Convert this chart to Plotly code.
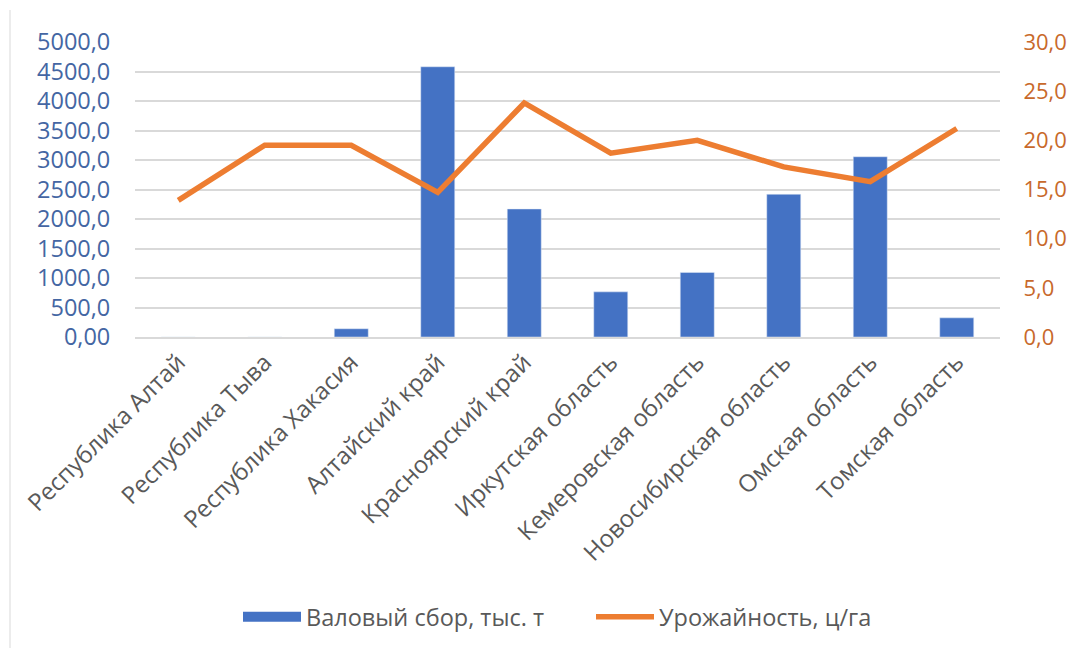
import plotly.graph_objects as go

categories = ["Республика Алтай", "Республика Тыва", "Республика Хакасия",
              "Алтайский край", "Красноярский край", "Иркутская область",
              "Кемеровская область", "Новосибирская область", "Омская область",
              "Томская область"]
gross_harvest = [0, 0, 140, 4580, 2170, 765, 1095, 2420, 3055, 325]
yield_cq = [13.9, 19.5, 19.5, 14.7, 23.8, 18.7, 20.0, 17.3, 15.8, 21.2]

left_ticks = [0, 500, 1000, 1500, 2000, 2500, 3000, 3500, 4000, 4500, 5000]
left_labels = ["0,00", "500,0", "1000,0", "1500,0", "2000,0", "2500,0",
               "3000,0", "3500,0", "4000,0", "4500,0", "5000,0"]
right_ticks = [0, 5, 10, 15, 20, 25, 30]
right_labels = ["0,0", "5,0", "10,0", "15,0", "20,0", "25,0", "30,0"]

FONT = "Open Sans"
BAR_COLOR = "#4472C4"
LINE_COLOR = "#ED7D31"

# page body has an 8px margin, so the figure is sized/offset to compensate
W, H = 1069, 641
L, R, T = 127, 77, 34
PLOT_BOTTOM = 329.5
B = H - PLOT_BOTTOM
PH = PLOT_BOTTOM - T
PW = W - L - R

fig = go.Figure()
fig.add_trace(go.Bar(x=categories, y=gross_harvest, name="Валовый сбор, тыс. т",
                     marker_color=BAR_COLOR, yaxis="y", showlegend=False))
# legend proxy so the bar key is drawn as a wide block like the reference
fig.add_trace(go.Scatter(x=[None], y=[None], name="Валовый сбор, тыс. т",
                         mode="lines", line=dict(color=BAR_COLOR, width=13),
                         yaxis="y", hoverinfo="skip"))
fig.add_trace(go.Scatter(x=categories, y=yield_cq, name="Урожайность, ц/га",
                         mode="lines", line=dict(color=LINE_COLOR, width=5.5),
                         yaxis="y2"))

fig.update_layout(
    width=W, height=H,
    margin=dict(l=L, r=R, t=T, b=B, autoexpand=False),
    paper_bgcolor="white", plot_bgcolor="white",
    bargap=0.607,
    font=dict(family=FONT),
    xaxis=dict(tickangle=-45, tickfont=dict(size=24, color="#595959"),
               showgrid=False, showline=True, linecolor="#d9d9d9", linewidth=1.5,
               ticks="", automargin=False),
    yaxis=dict(range=[0, 5000], tickvals=left_ticks, ticktext=left_labels,
               tickfont=dict(size=23.5, color="#4466a3"),
               showgrid=True, gridcolor="#d9d9d9", gridwidth=1.5,
               zeroline=False, showline=False, ticks="outside", ticklen=19,
               tickcolor="rgba(0,0,0,0)", automargin=False),
    yaxis2=dict(range=[0, 30], tickvals=right_ticks, ticktext=right_labels,
                overlaying="y", side="right",
                tickfont=dict(size=22, color="#c8692b"),
                showgrid=False, zeroline=False, showline=False,
                ticks="outside", ticklen=18, tickcolor="rgba(0,0,0,0)",
                automargin=False),
    legend=dict(orientation="h", x=(230 - L) / PW, xanchor="left",
                y=(PLOT_BOTTOM - 610) / PH, yanchor="middle",
                font=dict(size=23.5, color="#595959"), itemwidth=58,
                entrywidth=280, entrywidthmode="pixels"),
    shapes=[dict(type="line", xref="paper", yref="paper",
                 x0=(2 - L) / PW, x1=(2 - L) / PW,
                 y0=(PLOT_BOTTOM - 2) / PH, y1=(PLOT_BOTTOM - H) / PH,
                 line=dict(color="#e6e6e6", width=1.5))],
)

fig.write_html("out.html")
